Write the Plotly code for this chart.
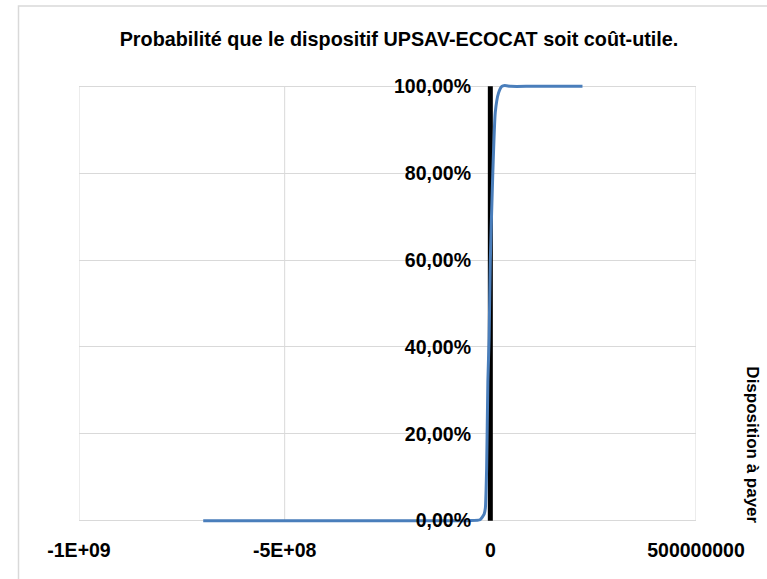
import plotly.graph_objects as go

# Data: willingness to pay (x) vs probability cost-utility (y)
wtp = [-6.98e8, -3.0e8, -1.0e8, -5.0e7, -2.5e7, -1.5e7, -1.2e7, -9.0e6, -6.0e6, -3.0e6, 0.0,
       6.0e6, 1.2e7, 2.0e7, 2.8e7, 3.5e7, 5.0e7, 1.0e8, 2.24e8]
prob = [0.0, 0.0, 0.0, 0.0, 0.002, 0.015, 0.03, 0.12, 0.32, 0.42, 0.6,
        0.8, 0.94, 0.985, 1.0, 1.002, 1.0, 1.0, 1.0]

ref_x = [0, 0]
ref_y = [0, 1]

x_ticks = [-1e9, -5e8, 0, 5e8]
x_ticktext = ["-1E+09", "-5E+08", "0", "500000000"]
y_ticks = [0, 0.2, 0.4, 0.6, 0.8, 1.0]
y_ticktext = ["0,00%", "20,00%", "40,00%", "60,00%", "80,00%", "100,00%"]

title_text = "Probabilité que le dispositif UPSAV-ECOCAT soit coût-utile."
axis_title = "Disposition à payer"

FONT = "Liberation Sans, Arial, sans-serif"

fig = go.Figure()
fig.add_trace(go.Scatter(x=ref_x, y=ref_y, mode="lines",
                         line=dict(color="#000000", width=5),
                         showlegend=False, hoverinfo="skip"))
fig.add_trace(go.Scatter(x=wtp, y=prob, mode="lines",
                         line=dict(color="#4A7EBB", width=3, shape="spline", smoothing=0.5),
                         showlegend=False, hoverinfo="skip"))

# vertical gridlines limited to the 0..1 band
for v in x_ticks:
    fig.add_shape(type="line", xref="x", yref="y", x0=v, x1=v, y0=0, y1=1,
                  line=dict(color="#D9D9D9", width=1), layer="below")

pad = 0.01
L, R, T, B = 79, 71, 86, 58
H = 435
plot_top = T - pad * H
plot_h = H * (1 + 2 * pad)
plot_w = 767 - L - R

# outer chart border (pixel positions converted to paper fractions)
fig.add_shape(type="rect", xref="paper", yref="paper",
              x0=(18.5 - L) / plot_w, x1=(790 - L) / plot_w,
              y0=(plot_top + plot_h - 600) / plot_h, y1=(plot_top + plot_h - 5.5) / plot_h,
              line=dict(color="#D9D9D9", width=1.5), fillcolor="rgba(0,0,0,0)", layer="below")

fig.update_layout(
    width=767, height=579,
    paper_bgcolor="white", plot_bgcolor="white",
    margin=dict(l=L, r=R, t=plot_top, b=B - pad * H, autoexpand=False),
    font=dict(family=FONT, size=19.5, color="#000000"),
    title=dict(text="<b>" + title_text + "</b>", x=399 / 767, xref="container",
               y=1 - 39 / 579, yref="container", xanchor="center", yanchor="middle",
               font=dict(size=19.8, family=FONT)),
    xaxis=dict(range=[-1e9, 5e8], tickvals=x_ticks, ticktext=["<b>" + t + "</b>" for t in x_ticktext],
               showgrid=False, zeroline=False, showline=False, ticks="",
               ticklabelstandoff=11, tickfont=dict(size=19.5, family=FONT)),
    yaxis=dict(range=[-pad, 1 + pad], tickvals=y_ticks, ticktext=["<b>" + t + "</b>" for t in y_ticktext],
               showgrid=True, gridcolor="#D9D9D9", gridwidth=1, zeroline=False, showline=False,
               anchor="free", position=(490 - 79) / 617, ticks="",
               ticklabelstandoff=19, tickfont=dict(size=19.5, family=FONT)),
    annotations=[dict(text="<b>" + axis_title + "</b>", xref="paper", yref="paper",
                      x=(753 - 79) / 617, y=0.182, textangle=90, showarrow=False,
                      font=dict(size=17, family=FONT), xanchor="center", yanchor="middle")],
)

fig.write_html("out.html", config={"displayModeBar": False},
               post_script="document.body.style.margin='0';document.body.style.padding='0';")
